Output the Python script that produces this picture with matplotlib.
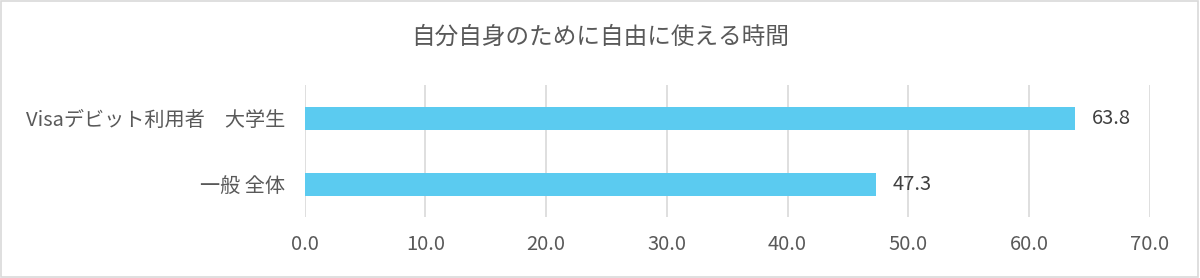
import matplotlib.pyplot as plt
from matplotlib.patches import Rectangle

plt.rcParams['font.family'] = ['Noto Sans CJK JP', 'DejaVu Sans']

categories = ['一般 全体', 'Visaデビット利用者　大学生']
values = [47.3, 63.8]
ticks = [0, 10, 20, 30, 40, 50, 60, 70]
title = '自分自身のために自由に使える時間'

fig = plt.figure(figsize=(12, 2.78), dpi=100)
ax = fig.add_axes([0.254, 0.219, 0.704, 0.475])

ypos = list(range(len(categories)))
ax.barh(ypos, values, height=0.35, color='#5BCBF0', zorder=3)
for y, v in zip(ypos, values):
    ax.text(v + 1.4, y, '{:.1f}'.format(v), va='center', ha='left',
            fontsize=14.5, color='#404040')

ax.set_xlim(0, 70)
ax.set_ylim(-0.5, 1.5)
ax.set_xticks(ticks)
ax.set_xticklabels(['{:.1f}'.format(t) for t in ticks], fontsize=14.5, color='#595959')
ax.set_yticks(ypos)
ax.set_yticklabels(categories, fontsize=14.5, color='#595959')
ax.tick_params(length=0)
ax.tick_params(axis='x', pad=12)
ax.tick_params(axis='y', pad=14)
ax.grid(axis='x', color='#D9D9D9', linewidth=1.2, zorder=0)
for s in ax.spines.values():
    s.set_visible(False)

fig.text(0.5, 0.865, title, ha='center', va='center', fontsize=17, color='#595959')
fig.patches.append(Rectangle((0.001, 0.004), 0.997, 0.992, transform=fig.transFigure,
                             fill=False, edgecolor='#D9D9D9', linewidth=1.2))

plt.savefig('out.png', dpi=100)
